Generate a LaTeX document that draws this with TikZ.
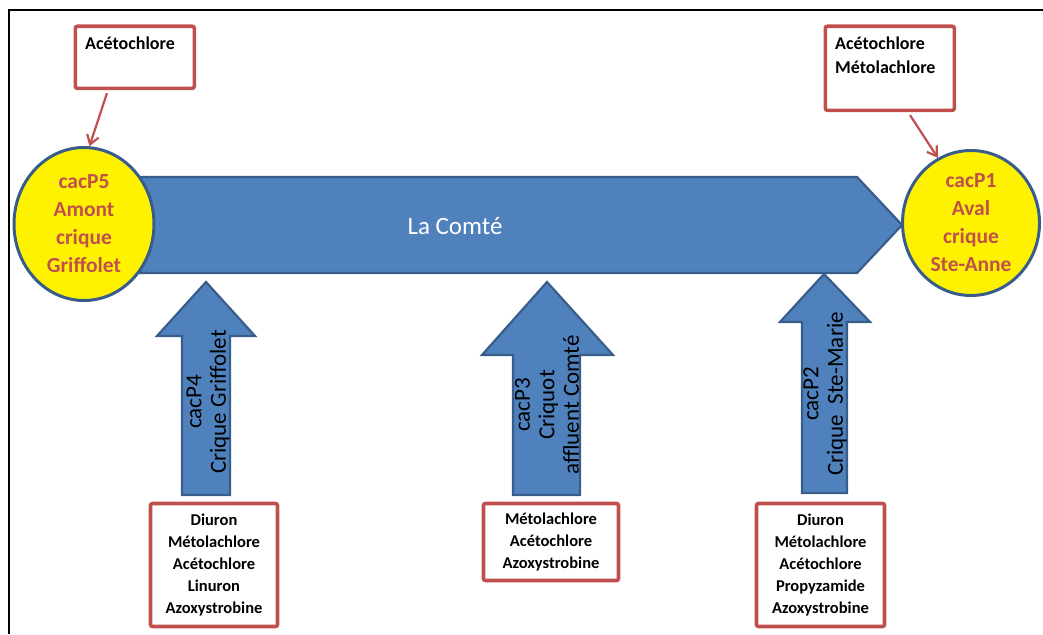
\documentclass[tikz,border=0pt]{standalone}
\usepackage{fontspec}
\setmainfont{Carlito}
\usetikzlibrary{shapes.geometric,arrows.meta,calc}
\definecolor{rivblue}{HTML}{4F81BD}
\definecolor{rivedge}{HTML}{385D8A}
\definecolor{boxred}{HTML}{C0504D}
\tikzset{
  riverarrow/.style={fill=rivblue,draw=rivedge,line width=2.2pt,line join=miter},
  station/.style={ellipse,fill=yellow,draw=rivedge,line width=3pt,inner sep=0pt,
    text=boxred,align=center,font=\fontsize{21.5}{28}\selectfont\bfseries},
  redbox/.style={draw=boxred,line width=3.6pt,rounded corners=2pt,fill=white,inner sep=0pt},
  boxtext/.style={align=center,font=\fontsize{16.5}{22}\selectfont\bfseries},
  toptext/.style={align=left,font=\fontsize{18}{24}\selectfont\bfseries,anchor=north west,inner sep=0pt},
  armtext/.style={rotate=90,align=center,font=\fontsize{23}{24.5}\selectfont},
  feed/.style={draw=boxred,line width=2.2pt,-{Straight Barb[length=9pt,width=12pt,line width=2.2pt]}}
}
\begin{document}
\begin{tikzpicture}[x=1pt,y=-1pt]
\useasboundingbox (0,0) rectangle (1043,634);
% frame
\draw[line width=2.2pt] (9,634) -- (9,10) -- (1043,10);
% main river arrow
\draw[riverarrow] (140,177) -- (857,177) -- (902,225) -- (857,273) -- (140,273) -- cycle;
\node[text=white,font=\fontsize{25}{28}\selectfont] (comte) at (455,226) {La Comté};
% tributaries
\draw[riverarrow] (206,282) -- (255,336) -- (230,336) -- (230,495) -- (182,495) -- (182,336) -- (157,336) -- cycle;
\draw[riverarrow] (547,282) -- (613,355) -- (580,355) -- (580,495) -- (513,495) -- (513,355) -- (482,355) -- cycle;
\draw[riverarrow] (824,274) -- (870,322) -- (847,322) -- (847,493) -- (802,493) -- (802,322) -- (780,322) -- cycle;
\node[armtext] (a4) at (208,402) {cacP4\\Crique Griffolet};
\node[armtext] (a3) at (547,405) {cacP3\\Criquot\\affluent Comté};
\node[armtext] (a2) at (825,394) {cacP2\\Crique\ \ Ste-Marie};
% stations
\node[station,minimum width=140pt,minimum height=153pt] (c5) at (84,224) {cacP5\\Amont\\crique\\Griffolet};
\node[station,minimum width=137pt,minimum height=145pt] (c1) at (971,223) {cacP1\\Aval\\crique\\Ste-Anne};
% top boxes
\node[redbox,anchor=north west,minimum width=119pt,minimum height=62pt] (tl) at (73.5,24.5) {};
\node[toptext] (tlt) at (85,37) {Acétochlore};
\node[redbox,anchor=north west,minimum width=129pt,minimum height=84pt] (tr) at (823.5,24.5) {};
\node[toptext] (trt) at (835,37) {Acétochlore\\Métolachlore};
\draw[feed] ($(tl.south west)+(33.5,3)$) -- (c5.86);
\draw[feed] ($(tr.south west)+(86.5,3)$) -- (c1.117);
% bottom boxes
\node[redbox,minimum width=127pt,minimum height=123pt] (b4) at (214,565) {};
\node[boxtext] (b4t) at (214,565) {Diuron\\Métolachlore\\Acétochlore\\Linuron\\Azoxystrobine};
\node[redbox,minimum width=135pt,minimum height=77pt] (b3) at (551,542) {};
\node[boxtext] (b3t) at (551,542) {Métolachlore\\Acétochlore\\Azoxystrobine};
\node[redbox,minimum width=128pt,minimum height=123pt] (b2) at (820.5,565) {};
\node[boxtext] (b2t) at (820.5,565) {Diuron\\Métolachlore\\Acétochlore\\Propyzamide\\Azoxystrobine};
\end{tikzpicture}
\end{document}
